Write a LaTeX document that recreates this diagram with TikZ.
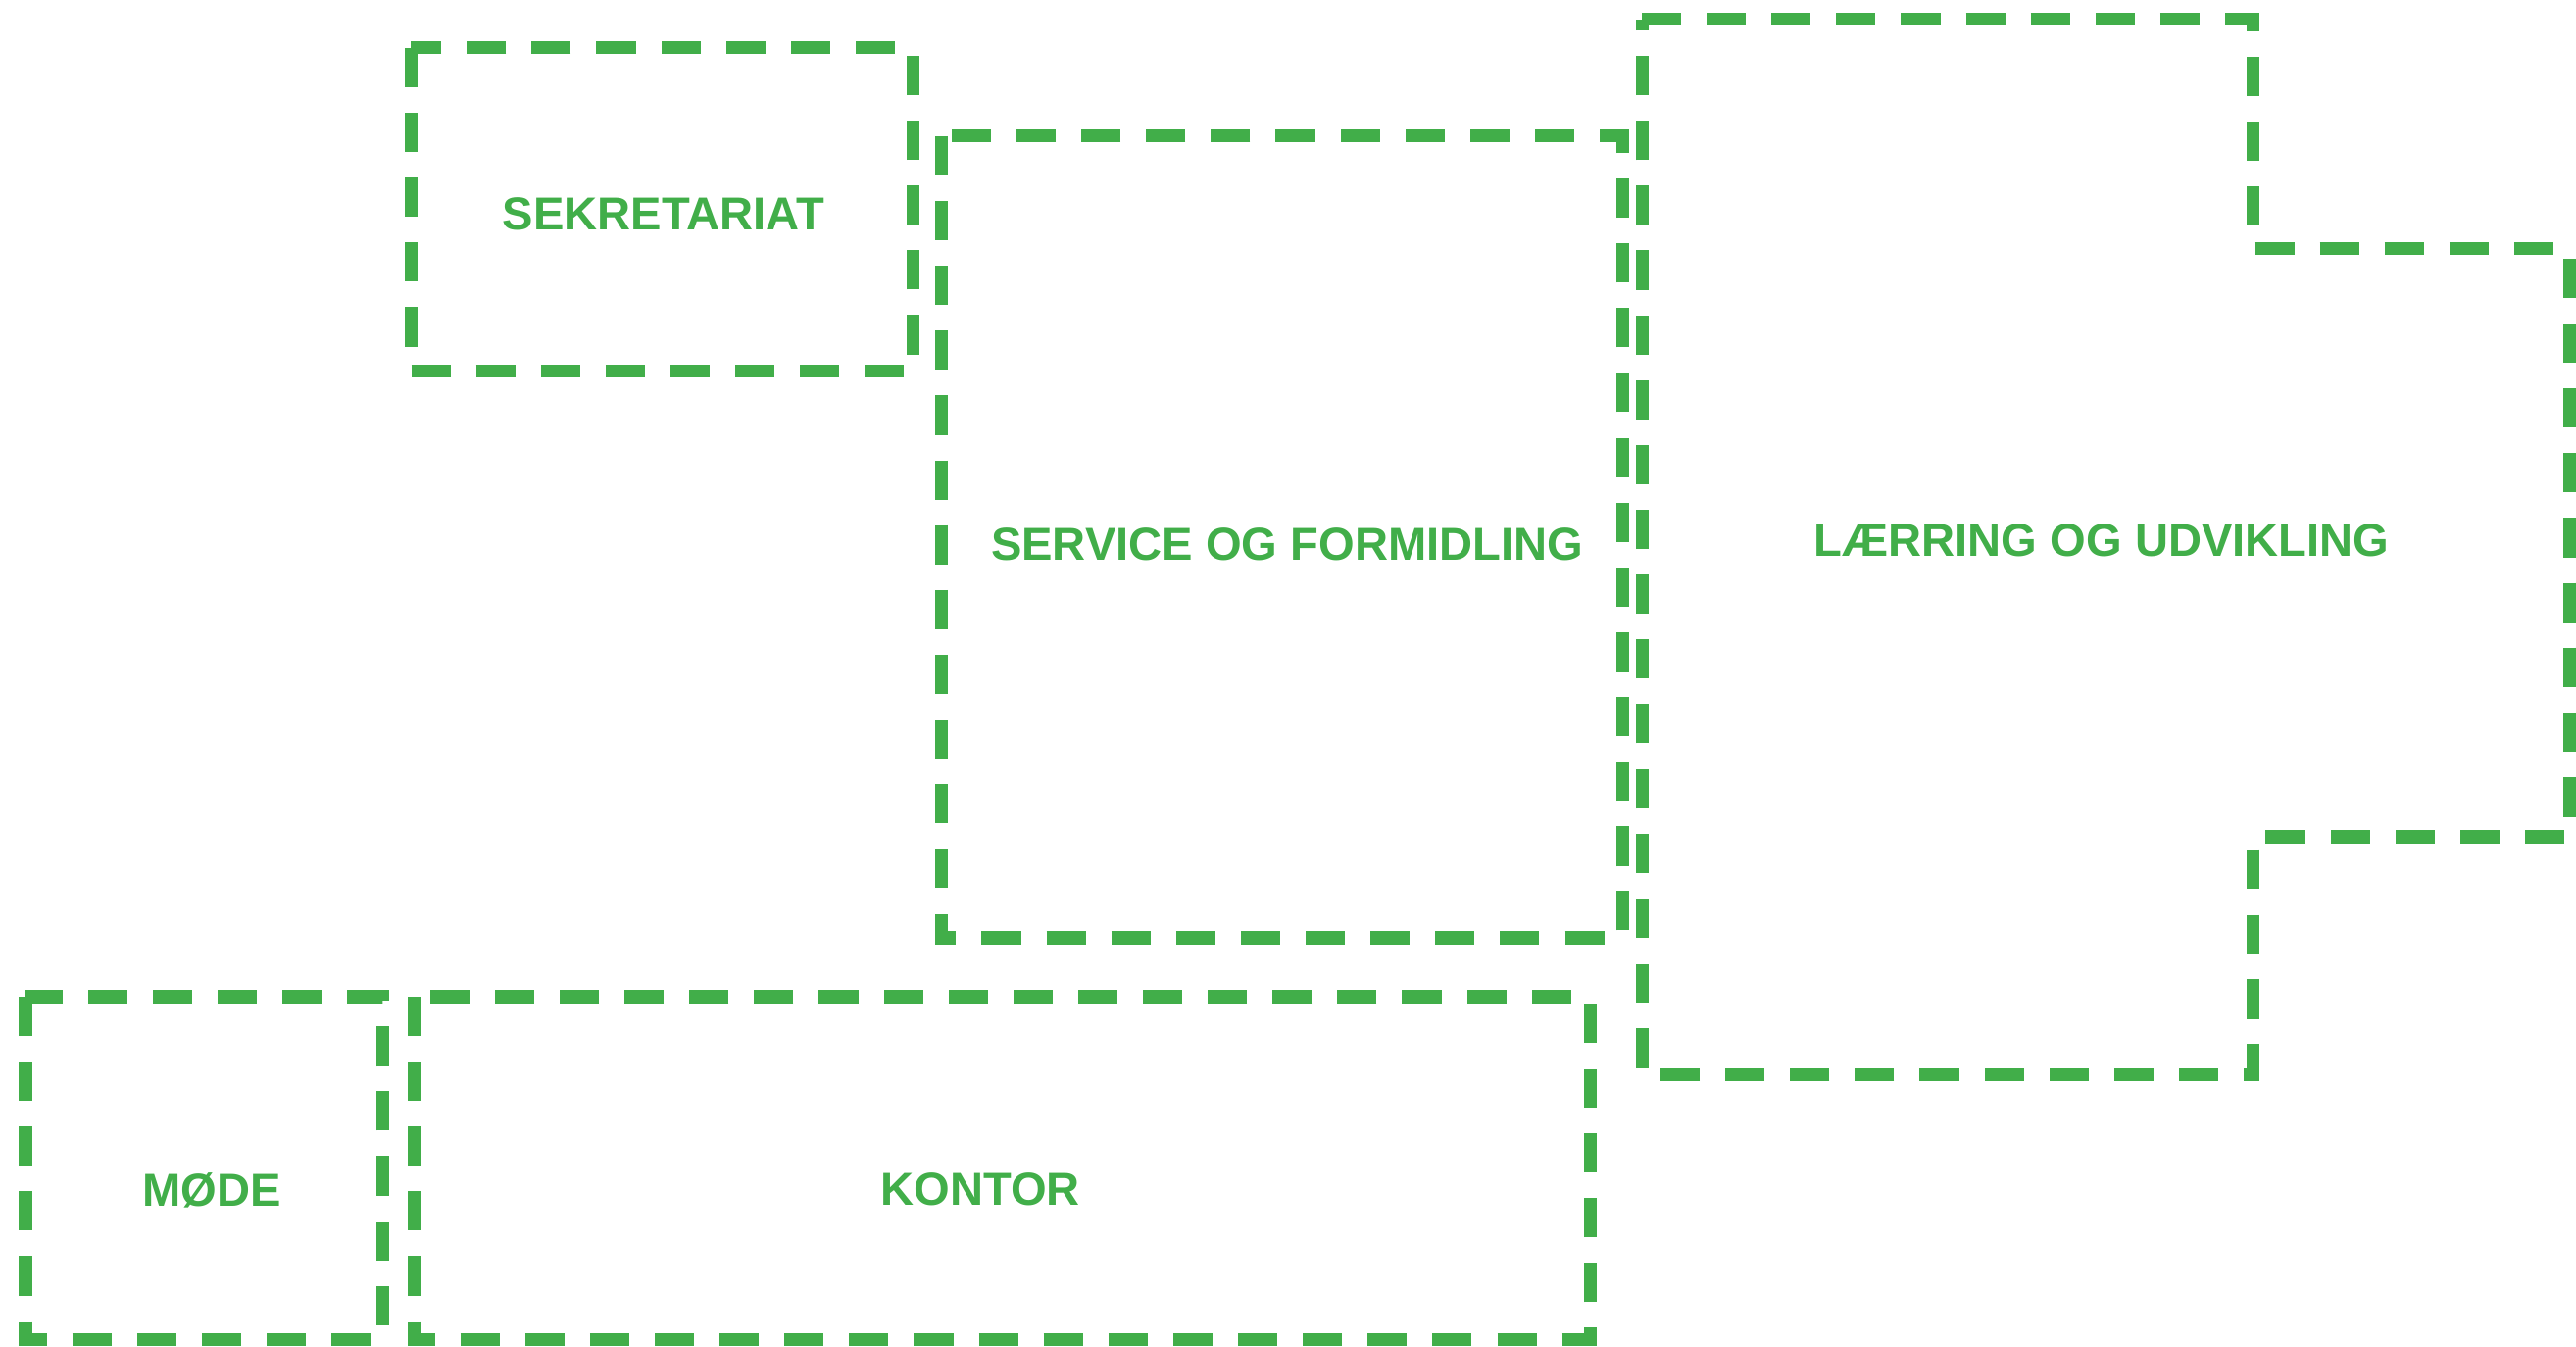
\documentclass[tikz,border=0pt]{standalone}
\usepackage{fontspec}
\setmainfont{Liberation Sans}
\definecolor{roomgreen}{RGB}{65,174,73}
\begin{document}
\begin{tikzpicture}[x=0.01cm,y=-0.01cm,
  room/.style={draw=roomgreen,line width=3.7pt,dash pattern=on 11.4pt off 7.4pt,line join=miter},
  roomname/.style={text=roomgreen,font=\fontsize{13.4}{16}\selectfont\bfseries}]
  \useasboundingbox (0,0) rectangle (2628,1374);
  % rooms
  \draw[room] (419,49) rectangle (931,379);
  \draw[room] (960,139) rectangle (1655,957);
  \draw[room] (1675,20) -- (2298,20) -- (2298,254) -- (2621,254) -- (2621,854)
    -- (2298,854) -- (2298,1096) -- (1675,1096) -- cycle;
  \draw[room] (26,1017) rectangle (390,1366);
  \draw[room] (422,1017) rectangle (1622,1366);
  % names
  \node[roomname] (sekretariat) at (677,218) {SEKRETARIAT};
  \node[roomname] (service) at (1313,555) {SERVICE OG FORMIDLING};
  \node[roomname] (laerring) at (2144,551) {LÆRRING OG UDVIKLING};
  \node[roomname] (mode) at (216,1214) {MØDE};
  \node[roomname] (kontor) at (1000,1213) {KONTOR};
\end{tikzpicture}
\end{document}
